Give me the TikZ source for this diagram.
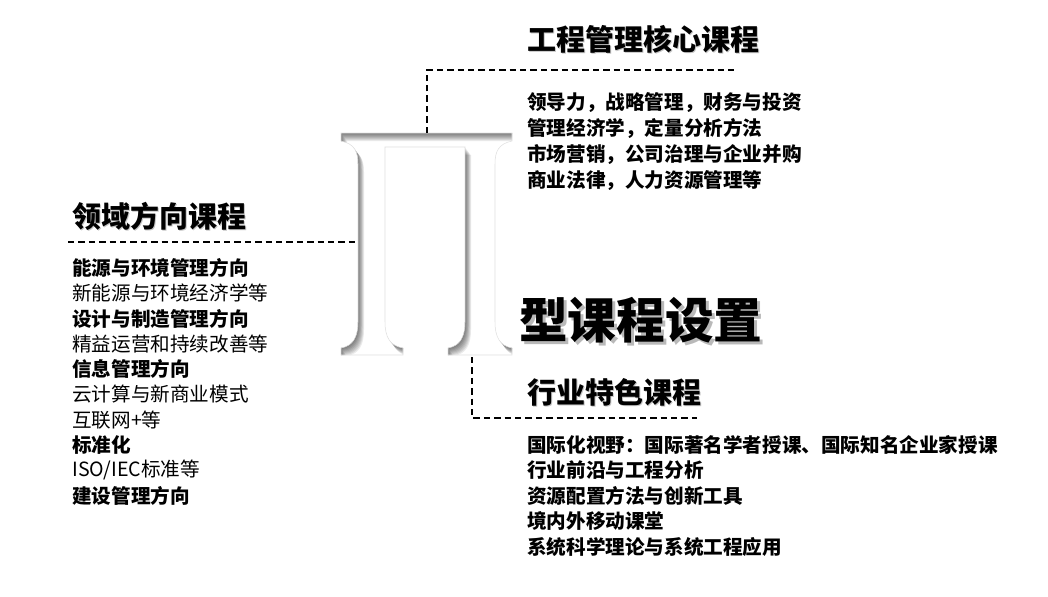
\documentclass[tikz,border=0pt]{standalone}
\usepackage{fontspec}
\setmainfont{Noto Sans CJK SC}

\newcommand\pipath{(341,133) -- (512,133) -- (512,141)
  .. controls (498,144) and (495,152) .. (495,164) -- (495,322)
  .. controls (495,337) and (500,346) .. (512,348) -- (512,355) -- (448,355) -- (448,348)
  .. controls (460,346) and (465,337) .. (465,322) -- (465,147) -- (385,147) -- (385,322)
  .. controls (385,337) and (390,346) .. (403,348) -- (403,355) -- (341,355) -- (341,348)
  .. controls (353,346) and (358,337) .. (358,322) -- (358,164)
  .. controls (358,152) and (355,144) .. (341,141) -- cycle}
\newcommand\shtext[3]{\makebox[0pt][l]{\kern#1\raisebox{-#1}{\textcolor{#2}{#3}}}#3}

\begin{document}
\begin{tikzpicture}[x=0.75pt,y=-0.75pt,
    title/.style={font=\fontsize{21.75pt}{26pt}\selectfont\bfseries, inner sep=0pt, anchor=west},
    bigtitle/.style={font=\fontsize{36.5pt}{42pt}\selectfont\bfseries, inner sep=0pt, anchor=west},
    itemb/.style={font=\fontsize{14.7pt}{18pt}\selectfont\bfseries, inner sep=0pt, anchor=west},
    itemr/.style={font=\fontsize{14.7pt}{18pt}\selectfont, inner sep=0pt, anchor=west},
    link/.style={dash pattern=on 4.8pt off 3pt, line width=1.35pt}]
    \useasboundingbox (0,0) rectangle (1048,596);

    \fill[white] \pipath;
    \begin{scope}
        \clip \pipath;
        \foreach \d in {1,...,8}
            \fill[black, opacity=0.08, even odd rule, shift={(0.75*\d,\d)}] (200,0) rectangle (700,500) \pipath;
    \end{scope}
    \draw[gray!25, line width=0.4pt] \pipath;

    \node[bigtitle] (pitype) at (519,322) {\shtext{2.2pt}{gray!55}{型课程设置}};

    \node[title] (core) at (527,40) {\shtext{1pt}{gray!45}{工程管理核心课程}};
    \foreach \t [count=\i] in {领导力，战略管理，财务与投资, 管理经济学，定量分析方法,
        市场营销，公司治理与企业并购, 商业法律，人力资源管理等}
        \node[itemb] (core\i) at (527,77.3+25.7*\i) {\t};

    \node[title] (domain) at (72,217) {\shtext{1pt}{gray!45}{领域方向课程}};
    \foreach \t/\s [count=\i] in {能源与环境管理方向/b, 新能源与环境经济学等/r,
        设计与制造管理方向/b, 精益运营和持续改善等/r, 信息管理方向/b,
        云计算与新商业模式/r, 互联网+等/r, 标准化/b, {ISO\slash IEC标准等}/r, 建设管理方向/b}
        \node[item\s] (domain\i) at (72,242.7+25.3*\i) {\t};

    \node[title] (industry) at (527,393) {\shtext{1pt}{gray!45}{行业特色课程}};
    \foreach \t [count=\i] in {国际化视野：国际著名学者授课、国际知名企业家授课,
        行业前沿与工程分析, 资源配置方法与创新工具, 境内外移动课堂,
        系统科学理论与系统工程应用}
        \node[itemb] (industry\i) at (527,419.4+25.5*\i) {\t};

    \coordinate (pitop) at (427,133);
    \coordinate (coreturn) at (427,70);
    \coordinate (coreend) at (737,70);
    \draw[link] (pitop) -- (coreturn) -- (coreend);

    \coordinate (domainend) at (68,242);
    \coordinate (pileft) at (358,242);
    \draw[link] (domainend) -- (pileft);

    \coordinate (pibottom) at (472,357);
    \coordinate (industryturn) at (472,418);
    \coordinate (industryend) at (697,418);
    \draw[link] (pibottom) -- (industryturn) -- (industryend);
\end{tikzpicture}
\end{document}
